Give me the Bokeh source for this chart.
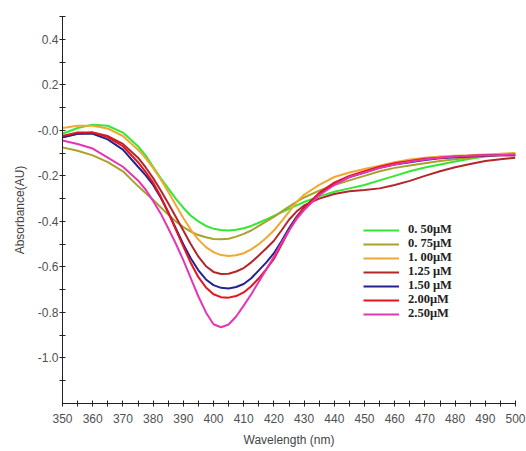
from bokeh.plotting import figure
from bokeh.models import FixedTicker, Legend, LegendItem, PrintfTickFormatter
from bokeh.embed import file_html
from bokeh.resources import INLINE

wavelength = [350, 355, 360, 365, 370, 375, 377.5, 380, 382.5, 385, 387.5, 390, 392.5, 395, 397.5,
              400, 402.5, 405, 407.5, 410, 412.5, 415, 417.5, 420, 422.5, 425, 427.5, 430,
              435, 440, 445, 450, 455, 460, 465, 470, 475, 480, 485, 490, 495, 500]

c050 = [-0.015, 0.01, 0.025, 0.02, -0.01, -0.07, -0.11, -0.16, -0.21, -0.255, -0.30, -0.34, -0.375,
        -0.40, -0.42, -0.432, -0.438, -0.44, -0.437, -0.43, -0.42, -0.406, -0.391, -0.376, -0.36,
        -0.345, -0.33, -0.315,
        -0.29, -0.27, -0.255, -0.24, -0.22, -0.2, -0.18, -0.163, -0.15, -0.137, -0.125, -0.115,
        -0.107, -0.10]
c075 = [-0.075, -0.09, -0.11, -0.14, -0.18, -0.245, -0.275, -0.305, -0.338, -0.37, -0.40, -0.425,
        -0.445, -0.46, -0.47, -0.477, -0.479, -0.476, -0.467, -0.455, -0.44, -0.42, -0.40, -0.38,
        -0.357, -0.335, -0.314, -0.295,
        -0.265, -0.24, -0.22, -0.2, -0.18, -0.165, -0.155, -0.145, -0.135, -0.127, -0.12, -0.113,
        -0.108, -0.105]
c100 = [0.01, 0.02, 0.02, 0.008, -0.025, -0.085, -0.122, -0.165, -0.215, -0.27, -0.328, -0.385,
        -0.437, -0.48, -0.513, -0.535, -0.548, -0.552, -0.549, -0.54, -0.523, -0.50, -0.472, -0.44,
        -0.40, -0.358, -0.315, -0.283,
        -0.24, -0.205, -0.185, -0.17, -0.155, -0.14, -0.128, -0.12, -0.115, -0.112, -0.11, -0.106,
        -0.103, -0.10]
c125 = [-0.03, -0.015, -0.01, -0.025, -0.06, -0.12, -0.162, -0.21, -0.263, -0.32, -0.38, -0.44,
        -0.50, -0.555, -0.597, -0.622, -0.631, -0.63, -0.62, -0.605, -0.58, -0.55, -0.518, -0.485,
        -0.44, -0.393, -0.357, -0.33,
        -0.3, -0.28, -0.268, -0.262, -0.255, -0.24, -0.222, -0.2, -0.18, -0.162, -0.148, -0.135,
        -0.127, -0.12]
c150 = [-0.03, -0.015, -0.015, -0.04, -0.085, -0.16, -0.197, -0.24, -0.295, -0.36, -0.43, -0.50,
        -0.563, -0.615, -0.655, -0.68, -0.692, -0.695, -0.688, -0.675, -0.65, -0.615, -0.58, -0.54,
        -0.487, -0.43, -0.38, -0.34,
        -0.28, -0.235, -0.205, -0.185, -0.165, -0.15, -0.14, -0.13, -0.123, -0.118, -0.115, -0.112,
        -0.11, -0.11]
c200 = [-0.025, -0.01, -0.01, -0.03, -0.07, -0.14, -0.182, -0.23, -0.29, -0.36, -0.435, -0.51,
        -0.583, -0.645, -0.69, -0.72, -0.733, -0.735, -0.728, -0.712, -0.685, -0.65, -0.61, -0.565,
        -0.503, -0.44, -0.385, -0.34,
        -0.275, -0.23, -0.2, -0.18, -0.16, -0.145, -0.135, -0.125, -0.12, -0.115, -0.112, -0.11,
        -0.11, -0.11]
c250 = [-0.045, -0.06, -0.08, -0.12, -0.16, -0.22, -0.26, -0.31, -0.365, -0.43, -0.497, -0.57,
        -0.65, -0.73, -0.80, -0.852, -0.865, -0.853, -0.818, -0.77, -0.72, -0.665, -0.61, -0.555,
        -0.495, -0.44, -0.39, -0.35,
        -0.285, -0.24, -0.205, -0.185, -0.165, -0.15, -0.138, -0.128, -0.12, -0.115, -0.112, -0.11,
        -0.108, -0.105]

series = [c050, c075, c100, c125, c150, c200, c250]
labels = ["0. 50\u03bcM", "0. 75\u03bcM", "1. 00\u03bcM", "1.25 \u03bcM", "1.50 \u03bcM",
          "2.00\u03bcM", "2.50\u03bcM"]
colors = ["#33e833", "#a9a12a", "#f2a830", "#b3262b", "#23238e", "#e8141c", "#e535b5"]

x_major = [350, 360, 370, 380, 390, 400, 410, 420, 430, 440, 450, 460, 470, 480, 490, 500]
x_minor = [355, 365, 375, 385, 395, 405, 415, 425, 435, 445, 455, 465, 475, 485, 495]
y_major = [-1.0, -0.8, -0.6, -0.4, -0.2, 0.0, 0.2, 0.4]
y_minor = [-1.1, -0.9, -0.7, -0.5, -0.3, -0.1, 0.1, 0.3, 0.5]

p = figure(width=526, height=451, x_range=(350, 500), y_range=(-1.2, 0.5),
           output_backend="svg", toolbar_location=None,
           min_border_left=62, min_border_right=11, min_border_top=16, min_border_bottom=48)
p.grid.visible = False
p.outline_line_color = None
p.background_fill_color = "white"

# legend rows: one small legend per row, stacked tightly
row_bottom = 166
row_step = 14
for i, (ys, lab, col) in enumerate(zip(series, labels, colors)):
    r = p.line(wavelength, ys, line_color=col, line_width=2)
    lg = Legend(items=[LegendItem(label=lab, renderers=[r])],
                location=(301, row_bottom - row_step * i), padding=0, margin=0, spacing=0,
                glyph_width=36, glyph_height=12, label_height=12, label_standoff=9,
                border_line_color=None, background_fill_alpha=0,
                label_text_font="Liberation Serif", label_text_font_size="12.5px",
                label_text_font_style="bold", label_text_color="#222222")
    p.add_layout(lg)

for ax in (p.xaxis[0], p.yaxis[0]):
    ax.axis_line_color = "#222222"
    ax.major_tick_line_color = "#222222"
    ax.minor_tick_line_color = "#222222"
    ax.major_tick_in = 3
    ax.major_tick_out = 3
    ax.minor_tick_in = 3
    ax.minor_tick_out = 3
    ax.major_label_text_font = "Liberation Sans"
    ax.major_label_text_font_size = "12px"
    ax.major_label_text_color = "#505050"
    ax.axis_label_text_font = "Liberation Sans"
    ax.axis_label_text_font_size = "12px"
    ax.axis_label_text_font_style = "normal"
    ax.axis_label_text_color = "#444444"

p.xaxis.ticker = FixedTicker(ticks=x_major, minor_ticks=x_minor)
p.yaxis.ticker = FixedTicker(ticks=y_major, minor_ticks=y_minor)
p.yaxis.formatter = PrintfTickFormatter(format="%.1f")
p.yaxis.major_label_overrides = {0: "-0.0"}
p.xaxis.axis_label = "Wavelength (nm)"
p.yaxis.axis_label = "Absorbance(AU)"
p.xaxis.major_label_standoff = 7
p.xaxis.axis_label_standoff = 7
p.yaxis.major_label_standoff = 1
p.yaxis.axis_label_standoff = 8

open("out.html", "w").write(file_html(p, INLINE))
